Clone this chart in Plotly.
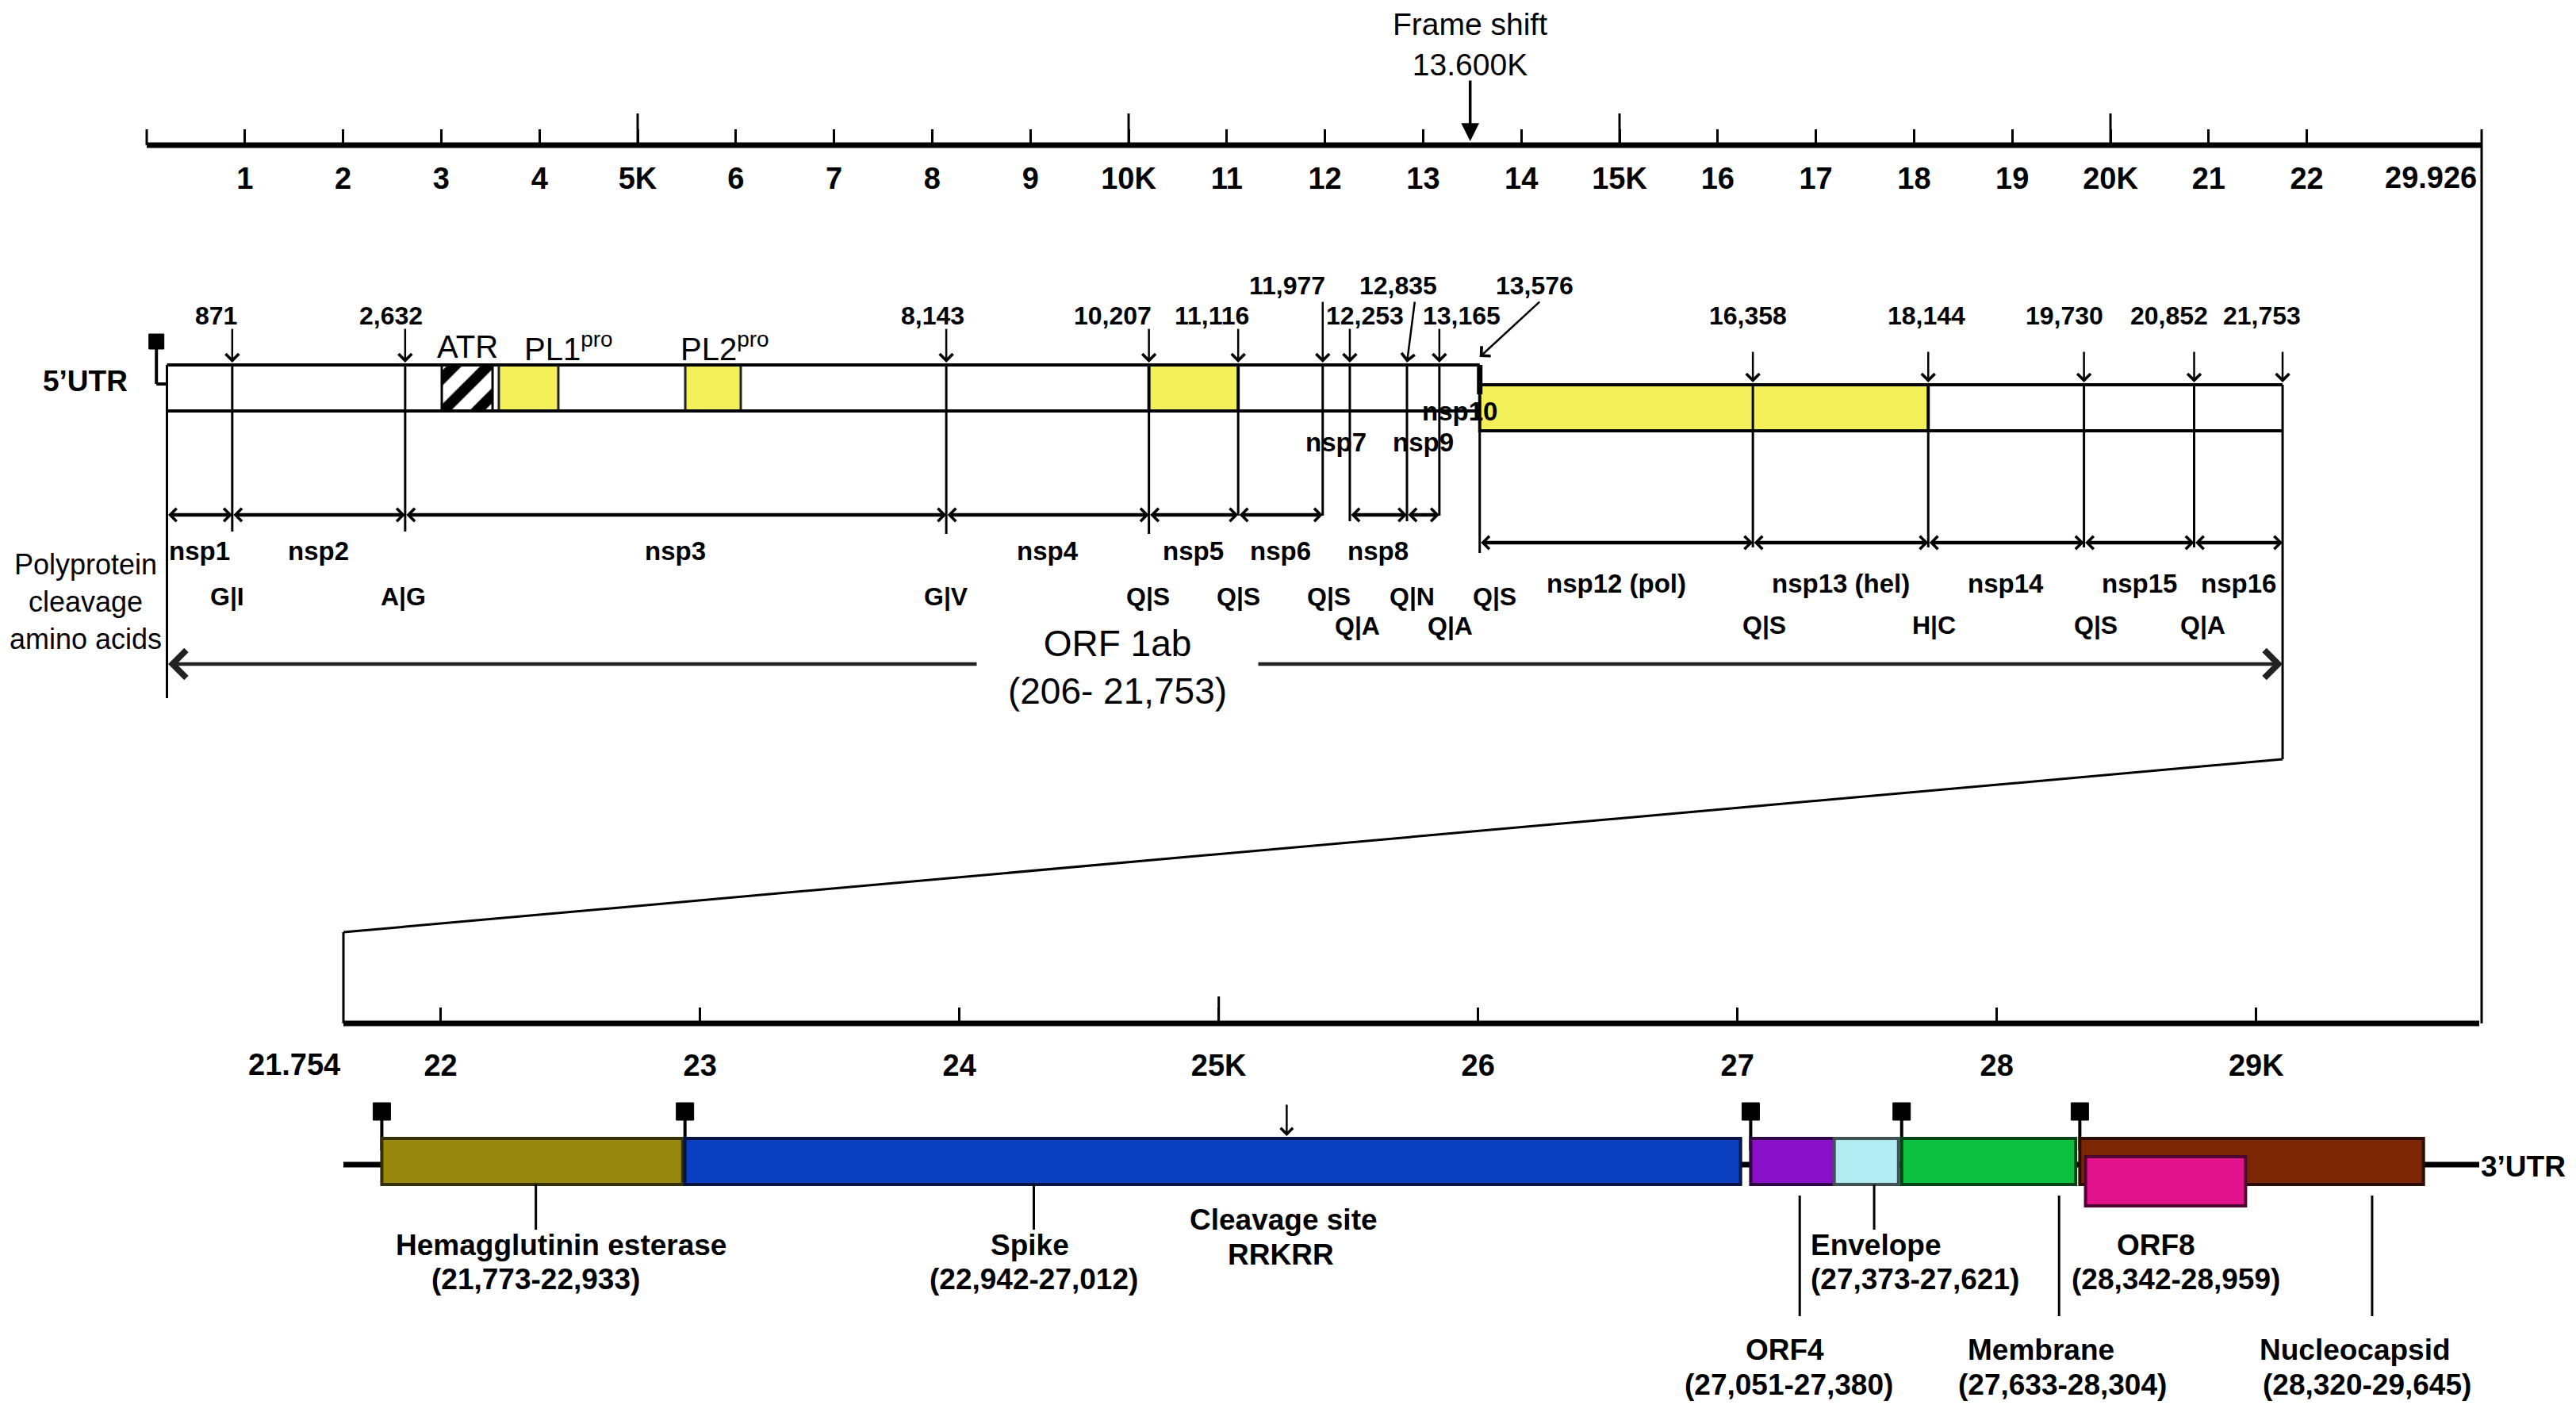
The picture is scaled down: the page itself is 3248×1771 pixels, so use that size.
import plotly.graph_objects as go

W, H = 3248, 1771
FONT = "Liberation Sans, Arial, Helvetica, sans-serif"

# ============================ data ============================
GENOME_END = 29926
FRAME_SHIFT = 13600
ORF1AB_START, ORF1AB_END = 206, 21753

nsp_boundaries = [871, 2632, 8143, 10207, 11116, 11977, 12253, 12835,
                  13165, 13576, 16358, 18144, 19730, 20852]
cleavage_sites = ["G|I", "A|G", "G|V", "Q|S", "Q|S", "Q|S", "Q|A", "Q|N",
                  "Q|A", "Q|S", "Q|S", "H|C", "Q|S", "Q|A"]
nsp_names = ["nsp1", "nsp2", "nsp3", "nsp4", "nsp5", "nsp6", "nsp7", "nsp8",
             "nsp9", "nsp10", "nsp12 (pol)", "nsp13 (hel)", "nsp14", "nsp15", "nsp16"]

domain_names = ["ATR", "PL1<sup>pro</sup>", "PL2<sup>pro</sup>"]
domain_starts = [3005, 3586, 5485]
domain_ends = [3522, 4192, 6050]

highlight_starts = [10207, 13576]   # nsp5 and nsp12-13 (yellow)
highlight_ends = [11116, 18144]

top_tick_values = [1000 * k for k in range(1, 23)]
top_tick_labels = ["1", "2", "3", "4", "5K", "6", "7", "8", "9", "10K", "11",
                   "12", "13", "14", "15K", "16", "17", "18", "19", "20K", "21", "22"]
TOP_AXIS_BREAK = 23780              # where the top scale is cut (end = genome end)

REGION2_START = 21754
bottom_axis_extent = [21625, 29860]
bottom_tick_values = [22000, 23000, 24000, 25000, 26000, 27000, 28000, 29000]
bottom_tick_labels = ["22", "23", "24", "25K", "26", "27", "28", "29K"]

gene_names = ["Hemagglutinin esterase", "Spike", "ORF4", "Envelope",
              "Membrane", "Nucleocapsid", "ORF8"]
gene_starts = [21773, 22942, 27051, 27373, 27633, 28320, 28342]
gene_ends = [22933, 27012, 27380, 27621, 28304, 29645, 28959]
gene_colors = ["#98880E", "#0A40C0", "#8A0FC8", "#B2ECF2", "#0CC040", "#7C2606", "#E0138A"]
gene_leader_pos = [22367, 24287, 27240, 27527, 28240, 29447, None]
trs_positions = [21773, 22942, 27051, 27633, 28320]
SPIKE_CLEAVAGE = 25262

# ============================ layout constants (pixels) ============================
DY = 8
TOP_PX = (177, 3121)     # canvas x of 0 and of TOP_AXIS_BREAK
BOT_PX = (425, 3118)     # canvas x of the bottom axis extent
s_top = (TOP_PX[1] - TOP_PX[0]) / TOP_AXIS_BREAK
x_range = [-TOP_PX[0] / s_top, (W - TOP_PX[0]) / s_top]
s_bot = (BOT_PX[1] - BOT_PX[0]) / (bottom_axis_extent[1] - bottom_axis_extent[0])
x2_range = [bottom_axis_extent[0] - BOT_PX[0] / s_bot,
            bottom_axis_extent[0] + (W - BOT_PX[0]) / s_bot]


def x2_to_x(v):
    f = (v - x2_range[0]) / (x2_range[1] - x2_range[0])
    return x_range[0] + f * (x_range[1] - x_range[0])


def ypos(v):
    return 1 - (v - DY) / H


Y_AX_TOP = 183
Y_AX_BOT = 1290
BOX1 = (460, 518)
BOX2 = (485, 543)
ROW_A, ROW_B = 649, 684
Y_ORF = 837

shapes = []
annots = []


def line(x0, y0, x1, y1, w=3, color="black", xref="x"):
    shapes.append(dict(type="line", xref=xref, yref="y", x0=x0, y0=y0, x1=x1, y1=y1,
                       line=dict(color=color, width=w)))


def rect(x0, y0, x1, y1, fill, lc="black", lw=3, xref="x"):
    shapes.append(dict(type="rect", xref=xref, yref="y", x0=x0, y0=y0, x1=x1, y1=y1,
                       fillcolor=fill, line=dict(color=lc, width=lw)))


def text(x, y, s, size, bold=False, xref="x", xanchor="center", xshift=0,
         yanchor="middle", **kw):
    annots.append(dict(x=x, y=y, xref=xref, yref="y", text=s, showarrow=False,
                       xanchor=xanchor, yanchor=yanchor, xshift=xshift,
                       font=dict(family=FONT, size=size, color="black",
                                 weight="bold" if bold else "normal"), **kw))


def darker(hexcol, f=0.35):
    r, g, b = (int(hexcol[i:i + 2], 16) for i in (1, 3, 5))
    return f"rgb({int(r * f)},{int(g * f)},{int(b * f)})"


fig = go.Figure()

# ============================ top scale ============================
line(0, Y_AX_TOP, TOP_AXIS_BREAK, Y_AX_TOP, w=7)
for v in [0] + top_tick_values + [TOP_AXIS_BREAK]:
    if v % 5000 == 0 and v > 0:
        line(v, 143, v, Y_AX_TOP, w=3)
    elif v in (0, TOP_AXIS_BREAK):
        line(v, 163, v, Y_AX_TOP, w=3)
text(TOP_AXIS_BREAK, 224, f"{GENOME_END / 1000:.3f}", 38, bold=True, xanchor="right", xshift=-4)

# frame shift
text(FRAME_SHIFT, DY, f"Frame shift<br>{FRAME_SHIFT / 1000:.3f}K", 39, xshift=-15,
     yanchor="top", borderpad=0)
annots.append(dict(x=FRAME_SHIFT, y=178, xref="x", yref="y", ax=0, ay=-78, text="",
                   showarrow=True, arrowhead=2, arrowwidth=3.5, arrowsize=1.3,
                   arrowcolor="black", xshift=-15))

# ============================ ORF1ab box ============================
fig.add_trace(go.Scatter(
    x=[domain_starts[0], domain_ends[0], domain_ends[0], domain_starts[0], domain_starts[0]],
    y=[BOX1[0], BOX1[0], BOX1[1], BOX1[1], BOX1[0]],
    mode="lines", fill="toself", line=dict(color="black", width=3),
    fillpattern=dict(shape="/", fgcolor="black", bgcolor="white", size=30,
                     solidity=0.45, fgopacity=1, fillmode="replace"),
    fillcolor="white", hoverinfo="skip", showlegend=False, xaxis="x", yaxis="y"))
for s, e in zip(domain_starts[1:], domain_ends[1:]):
    rect(s, BOX1[0], e, BOX1[1], "#F3F05A", lc="#222", lw=3)
for nm, s, e, dx in zip(domain_names, domain_starts, domain_ends, [0, 30, -8]):
    if nm == "ATR":
        text((s + e) / 2, 437, nm, 40)
    else:
        text(s, 437, nm, 40, xanchor="left", xshift=dx)

for (s, e), (y0, y1) in zip(zip(highlight_starts, highlight_ends), [BOX1, BOX2]):
    rect(s, y0, e, y1, "#F3F05A", lc="#222", lw=4)

# box outlines
step = nsp_boundaries[9]
line(ORF1AB_START, BOX1[0], step, BOX1[0], w=4)
line(ORF1AB_START, BOX1[1], step, BOX1[1], w=4)
line(step, BOX2[0], ORF1AB_END, BOX2[0], w=4)
line(step, BOX2[1], ORF1AB_END, BOX2[1], w=4)
line(step, BOX1[0], step, 497, w=7)

# 5' UTR marker
rect(22, 421, 22 + 19 / s_top, 440, "black", lc="black", lw=1)
utr_x = 22 + 9.5 / s_top
line(utr_x, 440, utr_x, 484, w=4)
line(utr_x, 484, ORF1AB_START, 484, w=4)
text(utr_x, 480, "5’UTR", 37, bold=True, xanchor="right", xshift=-34)

# boundary vertical lines
line(ORF1AB_START, BOX1[0], ORF1AB_START, 880, w=3)
line(ORF1AB_END, BOX2[0], ORF1AB_END, 957, w=3)
line_bottom = [670, 670, 673, 673, 650, 650, 657, 657, 650, 697, 690, 690, 690, 690]
for b, yb in zip(nsp_boundaries, line_bottom):
    top = BOX1[0] if b <= step else BOX2[0]
    line(b, top, b, yb, w=3)

# position labels + arrows
pos_values = nsp_boundaries + [ORF1AB_END]
pos_high = [False] * 15
for i in (5, 7, 9):
    pos_high[i] = True
pos_dx = [-20, -18, -17, -46, -33, -45, 19, -11, 28, 69, -6, -2, -25, -32, -26]
arrow_tail_dx = [0] * 15
arrow_tail_dx[7] = 10
arrow_tail_dx[9] = 77
for i, (v, hi, dx) in enumerate(zip(pos_values, pos_high, pos_dx)):
    ly = 360 if hi else 398
    text(v, ly, f"{v:,}", 32, bold=True, xshift=dx)
    in_box2 = v > step
    head = (BOX2[0] - 3) if in_box2 else (BOX1[0] - 3)
    tail = 442 if in_box2 else (379 if hi else 413)
    if i == 9:
        head = 450
    annots.append(dict(x=v, y=head, xref="x", yref="y", ax=arrow_tail_dx[i], ay=-(head - tail),
                       text="", showarrow=True, arrowhead=4, arrowwidth=2.5, arrowsize=1.3,
                       arrowcolor="black"))

# nsp segments: double arrows and labels
seg_edges = [ORF1AB_START] + nsp_boundaries + [ORF1AB_END]
nsp_label_y = [694, 694, 694, 694, 694, 694, 557, 694, 557, 518, 735, 735, 735, 735, 735]
for i, nm in enumerate(nsp_names):
    a, b = seg_edges[i], seg_edges[i + 1]
    text((a + b) / 2, nsp_label_y[i], nm, 33, bold=True)
    if nm in ("nsp7", "nsp10"):
        continue
    yy = ROW_A if b <= step else ROW_B
    annots.append(dict(x=b, y=yy, ax=a, ay=yy, xref="x", yref="y", axref="x", ayref="y",
                       text="", showarrow=True, arrowside="end+start",
                       arrowhead=4, startarrowhead=4, arrowwidth=4.5,
                       arrowsize=0.7, startarrowsize=0.7, arrowcolor="black",
                       standoff=0, startstandoff=0))

# cleavage amino acids
cl_dx = [-6, -2, 0, -1, 0, 8, 10, 7, 14, 19, 14, 7, 15, 11]
cl_y = [752] * 14
cl_y[6] = 789
cl_y[8] = 789
for k in range(10, 14):
    cl_y[k] = 788
for b, c, dx, yy in zip(nsp_boundaries, cleavage_sites, cl_dx, cl_y):
    text(b, yy, c, 32, bold=True, xshift=dx)

text(100 / W, 758, "Polyprotein<br>cleavage<br>amino acids", 36, xref="paper")

# ORF1ab arrow
annots.append(dict(x=ORF1AB_END, y=Y_ORF, ax=ORF1AB_START, ay=Y_ORF, xref="x", yref="y",
                   axref="x", ayref="y", text="", showarrow=True, arrowside="end+start",
                   arrowhead=4, startarrowhead=4, arrowwidth=4.5, arrowsize=1.5,
                   startarrowsize=1.5, arrowcolor="#222", standoff=0, startstandoff=0))
annots.append(dict(x=1401 / W, y=(813 + 868) / 2, xref="paper", yref="y",
                   text=f"ORF 1ab<br>({ORF1AB_START}- {ORF1AB_END:,})", showarrow=False,
                   bgcolor="white", borderpad=2, width=350,
                   font=dict(family=FONT, size=46, color="black")))

# ============================ connectors ============================
line(TOP_AXIS_BREAK, Y_AX_TOP, TOP_AXIS_BREAK, Y_AX_BOT, w=3)
line(ORF1AB_END, 957, x2_to_x(bottom_axis_extent[0]), 1175, w=3)
line(bottom_axis_extent[0], 1175, bottom_axis_extent[0], Y_AX_BOT, w=3, xref="x2")

# ============================ bottom scale ============================
line(bottom_axis_extent[0], Y_AX_BOT, bottom_axis_extent[1], Y_AX_BOT, w=7, xref="x2")
for v in bottom_tick_values:
    if v % 5000 == 0:
        line(v, 1256, v, Y_AX_BOT, w=3, xref="x2")
text(bottom_axis_extent[0], 1342, f"{REGION2_START / 1000:.3f}", 38, bold=True,
     xref="x2", xanchor="right", xshift=-2)

# genome backbone
Y_BB = 1468
fig.add_trace(go.Scatter(x=bottom_axis_extent, y=[Y_BB, Y_BB], mode="lines",
                         line=dict(color="black", width=7), hoverinfo="skip",
                         showlegend=False, xaxis="x2", yaxis="y"))

# TRS markers
for p in trs_positions:
    line(p, 1412, p, 1450, w=4, xref="x2")
    rect(p - 11 / s_bot, 1390, p + 11 / s_bot, 1412, "black", lc="black", lw=1, xref="x2")

# genes
for nm, s, e, c in zip(gene_names, gene_starts, gene_ends, gene_colors):
    y0, y1 = (1458, 1520) if nm == "ORF8" else (1435, 1493)
    rect(s, y0, e, y1, c, lc=darker(c), lw=4, xref="x2")

# spike cleavage site
annots.append(dict(x=SPIKE_CLEAVAGE, y=1432, xref="x2", yref="y", ax=0, ay=-41, text="",
                   showarrow=True, arrowhead=4, arrowwidth=2.5, arrowsize=1.2,
                   arrowcolor="black"))
text(SPIKE_CLEAVAGE, 1537, "Cleavage site", 37, bold=True, xref="x2", xshift=-4)
text(SPIKE_CLEAVAGE, 1581, "RRKRR", 37, bold=True, xref="x2", xshift=-7)

# gene labels
tier = {"Hemagglutinin esterase": 1, "Spike": 1, "Envelope": 1, "ORF8": 1,
        "ORF4": 2, "Membrane": 2, "Nucleocapsid": 2}
label_dx = {"Hemagglutinin esterase": (32, 0), "Spike": (-5, 0), "ORF4": (-19, -14),
            "Envelope": (-82, -82), "Membrane": (-23, 4), "ORF8": (-12, 13),
            "Nucleocapsid": (-21, -6)}
for nm, s, e, lp in zip(gene_names, gene_starts, gene_ends, gene_leader_pos):
    t = tier[nm]
    xpos = lp if lp is not None else (s + e) / 2
    if lp is not None:
        if t == 1:
            line(lp, 1493, lp, 1550, w=3, xref="x2")
        else:
            line(lp, 1507, lp, 1659, w=3, xref="x2")
    y_name, y_rng = (1569, 1612) if t == 1 else (1701, 1745)
    dxn, dxr = label_dx[nm]
    anc = "left" if nm == "Envelope" else "center"
    text(xpos, y_name, nm, 37, bold=True, xref="x2", xanchor=anc, xshift=dxn)
    text(xpos, y_rng, f"({s:,}-{e:,})", 37, bold=True, xref="x2", xanchor=anc, xshift=dxr)

text(bottom_axis_extent[1], 1470, "3’UTR", 37, bold=True, xref="x2", xanchor="left", xshift=0)

# ============================ layout ============================
tickfont = dict(family=FONT, size=38, color="black", weight="bold")
fig.update_layout(
    width=W, height=H, autosize=False,
    margin=dict(l=0, r=0, t=0, b=0, pad=0),
    paper_bgcolor="white", plot_bgcolor="white",
    showlegend=False,
    xaxis=dict(range=x_range, domain=[0, 1], anchor="free", position=ypos(Y_AX_TOP),
               showgrid=False, zeroline=False, showline=False,
               ticks="inside", ticklen=20, tickwidth=3, tickcolor="black",
               tickmode="array", tickvals=top_tick_values, ticktext=top_tick_labels,
               tickfont=tickfont, ticklabelstandoff=16, fixedrange=True),
    xaxis2=dict(range=x2_range, overlaying="x", anchor="free", position=ypos(Y_AX_BOT),
                showgrid=False, zeroline=False, showline=False,
                ticks="inside", ticklen=20, tickwidth=3, tickcolor="black",
                tickmode="array", tickvals=bottom_tick_values, ticktext=bottom_tick_labels,
                tickfont=tickfont, ticklabelstandoff=27, fixedrange=True),
    yaxis=dict(range=[H + DY, DY], domain=[0, 1], visible=False, fixedrange=True),
    shapes=shapes,
    annotations=annots,
)

fig.write_html("out.html")
